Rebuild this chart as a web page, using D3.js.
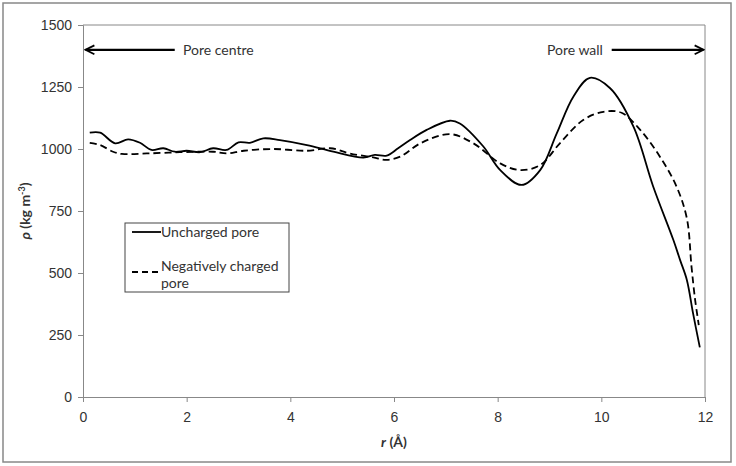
<!DOCTYPE html>
<html>
<head>
<meta charset="utf-8">
<script src="https://cdn.jsdelivr.net/npm/d3@7"></script>
<style>
  body { margin: 0; background: #fff; }
  svg { font-family: Lato, "Open Sans", sans-serif; }
  .tick text { fill: #333; font-size: 14px; }
</style>
</head>
<body>
<svg width="736" height="466"></svg>
<script>
// r (Å) and density (kg m-3)
const unchargedR = [0.13, 0.33, 0.62, 0.87, 1.1, 1.32, 1.55, 1.77, 2.0, 2.26, 2.51, 2.77, 3.0, 3.22, 3.48, 3.8,
    4.32, 4.83, 5.41, 5.63, 5.86, 6.08, 6.31, 6.63, 7.08, 7.27, 7.72, 8.05, 8.46, 8.82, 9.14, 9.46, 9.78,
    10.17, 10.62, 11.0, 11.39, 11.52, 11.65, 11.77, 11.9];
const unchargedRho = [1066, 1066, 1023, 1039, 1025, 996, 1003, 989, 993, 987, 1003, 996, 1027, 1025, 1043, 1036,
    1016, 989, 965, 976, 973, 1003, 1036, 1077, 1114, 1103, 1011, 915, 855, 915, 1063, 1211, 1287,
    1245, 1090, 849, 633, 552, 472, 337, 200];

const chargedR = [0.13, 0.33, 0.58, 0.75, 1.23, 1.87, 2.51, 2.77, 3.1, 3.67, 4.32, 4.77, 5.15, 5.6, 5.86, 6.12,
    6.51, 7.08, 7.53, 8.05, 8.43, 8.82, 9.2, 9.65, 10.04, 10.39, 10.75, 11.13, 11.45, 11.65, 11.74, 11.81, 11.88];
const chargedRho = [1025, 1016, 989, 980, 982, 987, 989, 982, 993, 1000, 993, 1003, 982, 966, 956, 969,
    1023, 1060, 1023, 942, 915, 935, 1023, 1117, 1150, 1146, 1077, 969, 849, 720, 525, 391, 290];

const xTicks = [0, 2, 4, 6, 8, 10, 12];
const yTicks = [0, 250, 500, 750, 1000, 1250, 1500];

const margin = { top: 25, right: 31, bottom: 69, left: 83 };
const svg = d3.select("svg");
const W = 736, H = 466;
const w = W - margin.left - margin.right;
const h = H - margin.top - margin.bottom;

// outer frame
svg.append("rect")
    .attr("x", 3).attr("y", 3).attr("width", 728).attr("height", 459)
    .attr("fill", "#fff").attr("stroke", "#888").attr("stroke-width", 1.5);

const g = svg.append("g").attr("transform", "translate(" + margin.left + "," + margin.top + ")");

const x = d3.scaleLinear().domain([0, 12]).range([0, w]);
const y = d3.scaleLinear().domain([0, 1500]).range([h, 0]);

// top and right edges of plot area
g.append("path")
    .attr("d", "M0,0H" + w + "V" + h)
    .attr("fill", "none").attr("stroke", "#888").attr("stroke-width", 1);

const xAxis = g.append("g")
    .attr("transform", "translate(0," + h + ")")
    .call(d3.axisBottom(x).tickValues(xTicks).tickSize(5).tickPadding(10));
const yAxis = g.append("g")
    .call(d3.axisLeft(y).tickValues(yTicks).tickFormat(d3.format("d")).tickSize(5).tickPadding(6));
[xAxis, yAxis].forEach(a => {
    a.select(".domain").attr("stroke", "#888");
    a.selectAll(".tick line").attr("stroke", "#888");
});

const line = d3.line()
    .x(d => x(d[0]))
    .y(d => y(d[1]))
    .curve(d3.curveCatmullRom.alpha(0.5));

g.append("path")
    .datum(d3.zip(unchargedR, unchargedRho))
    .attr("d", line)
    .attr("fill", "none").attr("stroke", "#000").attr("stroke-width", 1.8);

g.append("path")
    .datum(d3.zip(chargedR, chargedRho))
    .attr("d", line)
    .attr("fill", "none").attr("stroke", "#000").attr("stroke-width", 1.8)
    .attr("stroke-dasharray", "7,4");

// arrows for pore centre / pore wall
const defs = svg.append("defs");
defs.append("marker")
    .attr("id", "arrow")
    .attr("viewBox", "0 0 10 10")
    .attr("refX", 9).attr("refY", 5)
    .attr("markerWidth", 5).attr("markerHeight", 5)
    .attr("orient", "auto-start-reverse")
    .append("path")
    .attr("d", "M1,1L9,5L1,9")
    .attr("fill", "none").attr("stroke", "#000").attr("stroke-width", 1.6);

const arrowY = y(1400);
g.append("line")
    .attr("x1", x(1.77)).attr("x2", x(0.05))
    .attr("y1", arrowY).attr("y2", arrowY)
    .attr("stroke", "#000").attr("stroke-width", 2.2)
    .attr("marker-end", "url(#arrow)");
g.append("text")
    .attr("x", x(1.93)).attr("y", arrowY).attr("dy", "0.35em")
    .attr("fill", "#333").style("font-size", "14px")
    .text("Pore centre");

g.append("line")
    .attr("x1", x(10.2)).attr("x2", x(11.97))
    .attr("y1", arrowY).attr("y2", arrowY)
    .attr("stroke", "#000").attr("stroke-width", 2.2)
    .attr("marker-end", "url(#arrow)");
g.append("text")
    .attr("x", x(10.03)).attr("y", arrowY).attr("dy", "0.35em")
    .attr("text-anchor", "end")
    .attr("fill", "#333").style("font-size", "14px")
    .text("Pore wall");

// legend
const lg = svg.append("g").attr("transform", "translate(125,223)");
lg.append("rect")
    .attr("width", 164).attr("height", 69)
    .attr("fill", "#fff").attr("stroke", "#444").attr("stroke-width", 1);
lg.append("line")
    .attr("x1", 7).attr("x2", 36).attr("y1", 9).attr("y2", 9)
    .attr("stroke", "#000").attr("stroke-width", 1.8);
lg.append("text")
    .attr("x", 36).attr("y", 9).attr("dy", "0.35em")
    .attr("fill", "#333").style("font-size", "14px")
    .text("Uncharged pore");
lg.append("line")
    .attr("x1", 7).attr("x2", 36).attr("y1", 49).attr("y2", 49)
    .attr("stroke", "#000").attr("stroke-width", 1.8)
    .attr("stroke-dasharray", "6,4");
const lt = lg.append("text")
    .attr("fill", "#333").style("font-size", "14px");
lt.append("tspan").attr("x", 36).attr("y", 48).text("Negatively charged");
lt.append("tspan").attr("x", 36).attr("y", 65).text("pore");

// axis titles
const xt = svg.append("text")
    .attr("x", margin.left + x(6)).attr("y", 447)
    .attr("text-anchor", "middle")
    .attr("fill", "#333").style("font-size", "14px").style("font-weight", "bold");
xt.append("tspan").style("font-style", "italic").text("r");
xt.append("tspan").text(" (Å)");

const yt = svg.append("text")
    .attr("transform", "translate(30," + (margin.top + y(750)) + ") rotate(-90)")
    .attr("text-anchor", "middle")
    .attr("fill", "#333").style("font-size", "14px").style("font-weight", "bold");
yt.append("tspan").style("font-style", "italic").text("ρ");
yt.append("tspan").text(" (kg m");
yt.append("tspan").attr("dy", "-5").style("font-size", "9px").text("-3");
yt.append("tspan").attr("dy", "5").text(")");
</script>
</body>
</html>
